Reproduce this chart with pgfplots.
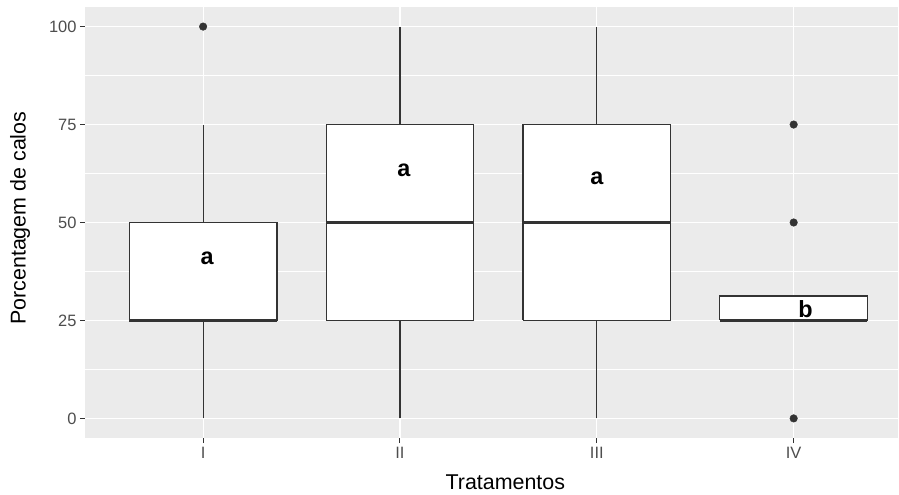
\documentclass[border=0pt]{standalone}
\usepackage{pgfplots}
\pgfplotsset{compat=1.18}
\usepackage{fontspec}
\setmainfont{Liberation Sans}
\definecolor{panelbg}{HTML}{EBEBEB}
\definecolor{gtwenty}{HTML}{333333}
\definecolor{gthirty}{HTML}{4D4D4D}
\begin{document}
\begin{tikzpicture}
\useasboundingbox (-85bp,-57bp) rectangle (814bp,438bp);
\begin{axis}[
  at={(0,0)}, anchor=south west,
  scale only axis, width=813bp, height=431bp,
  xmin=0.4, xmax=4.53, ymin=-5, ymax=105,
  axis x line*=bottom, axis y line*=left,
  axis line style={draw=none},
  axis background/.style={fill=panelbg},
  xtick={1,2,3,4}, xticklabels={I,II,III,IV},
  ytick={0,25,50,75,100},
  minor ytick={12.5,37.5,62.5,87.5},
  xmajorgrids, ymajorgrids, yminorgrids,
  major grid style={white, line width=1.1bp},
  minor grid style={white, line width=0.55bp},
  tick align=outside,
  major tick length=5bp, minor tick length=0pt,
  tick style={gtwenty, line width=1bp},
  /pgf/number format/assume math mode=true,
  ticklabel style={font=\fontsize{16.5}{19}\selectfont, text=gthirty},
  xticklabel style={yshift=-1bp},
  xlabel={Tratamentos}, ylabel={Porcentagem de calos},
  every axis x label/.style={at={(axis description cs:0.517,0)}, yshift=-44bp, anchor=center, font=\fontsize{21.5}{24}\selectfont},
  every axis y label/.style={at={(axis description cs:0,0.51)}, xshift=-65bp, rotate=90, anchor=center, font=\fontsize{21.5}{24}\selectfont},
  clip=false,
  boxst/.style={draw=gtwenty, fill=white, line width=1.2bp, mark=none},
  medst/.style={draw=gtwenty, line width=2.4bp, mark=none},
  whst/.style={draw=gtwenty, line width=1.2bp, mark=none},
]
% whiskers
\addplot[whst] coordinates {(1,0) (1,25)};
\addplot[whst] coordinates {(1,50) (1,75)};
\addplot[whst] coordinates {(2,0) (2,25)};
\addplot[whst] coordinates {(2,75) (2,100)};
\addplot[whst] coordinates {(3,0) (3,25)};
\addplot[whst] coordinates {(3,75) (3,100)};
% boxes (lower quartile, upper quartile)
\addplot[boxst] coordinates {(0.625,25) (1.375,25) (1.375,50) (0.625,50) (0.625,25)};
\addplot[boxst] coordinates {(1.625,25) (2.375,25) (2.375,75) (1.625,75) (1.625,25)};
\addplot[boxst] coordinates {(2.625,25) (3.375,25) (3.375,75) (2.625,75) (2.625,25)};
\addplot[boxst] coordinates {(3.625,25) (4.375,25) (4.375,31.25) (3.625,31.25) (3.625,25)};
% medians
\addplot[medst] coordinates {(0.625,25) (1.375,25)};
\addplot[medst] coordinates {(1.625,50) (2.375,50)};
\addplot[medst] coordinates {(2.625,50) (3.375,50)};
\addplot[medst] coordinates {(3.625,25) (4.375,25)};
% outliers
\addplot[only marks, mark=*, mark size=3.8bp, mark options={fill=gtwenty, draw=gtwenty}] coordinates {(1,100) (4,0) (4,50) (4,75)};
\node[font=\bfseries\fontsize{23.5}{26}\selectfont] at (axis cs:1.02,40.8) {a};
\node[font=\bfseries\fontsize{23.5}{26}\selectfont] at (axis cs:2.02,63.3) {a};
\node[font=\bfseries\fontsize{23.5}{26}\selectfont] at (axis cs:3.0,61.2) {a};
\node[font=\bfseries\fontsize{23.5}{26}\selectfont] at (axis cs:4.06,27.8) {b};
\end{axis}
\end{tikzpicture}
\end{document}
